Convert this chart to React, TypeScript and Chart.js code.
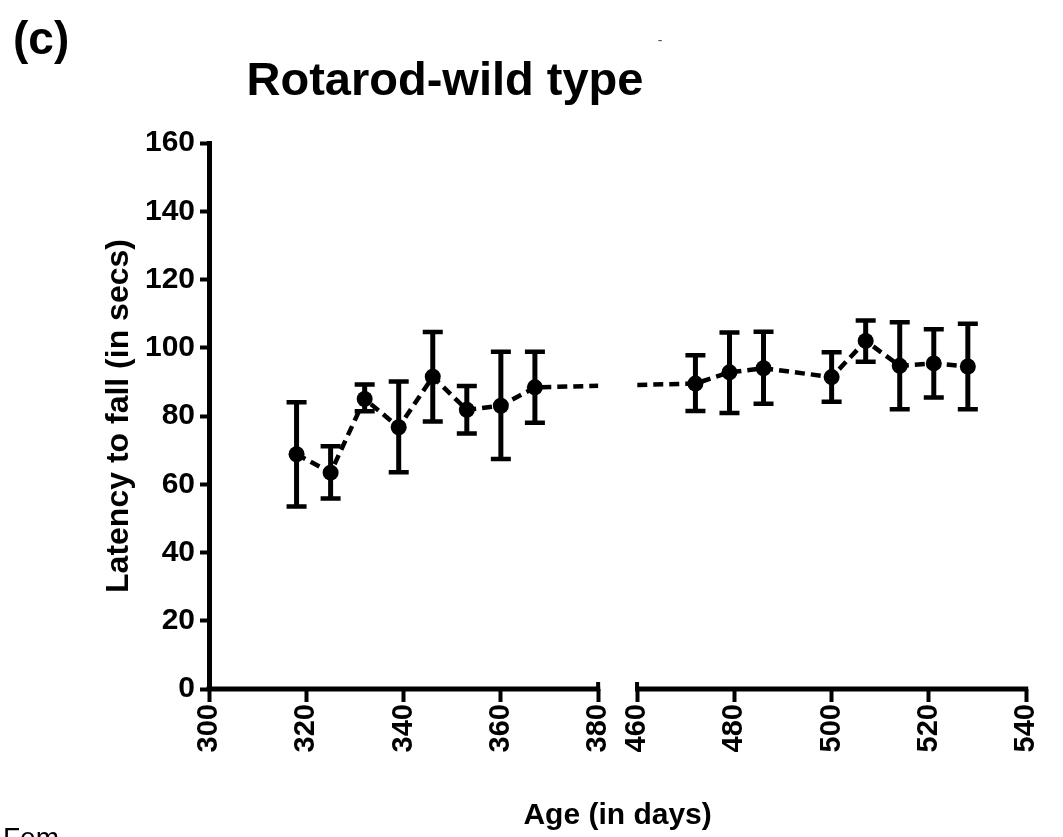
import React, { useEffect, useRef } from "react";
import { Chart, registerables } from "chart.js";

Chart.register(...registerables);

// ---- data ----
const ageDays = [318, 325, 332, 339, 346, 353, 360, 367, 472, 479, 486, 500, 507, 514, 521, 528];
const latencyMean = [68.8, 63.4, 85.0, 76.7, 91.5, 81.8, 83.0, 88.4, 89.5, 92.8, 94.0, 91.4, 102.0, 94.7, 95.4, 94.5];
const latencyUpper = [84.0, 71.1, 89.2, 90.1, 104.6, 88.8, 98.8, 98.8, 97.8, 104.5, 104.7, 98.7, 108.0, 107.5, 105.4, 107.0];
const latencyLower = [53.5, 55.8, 81.4, 63.5, 78.4, 74.9, 67.4, 78.0, 81.5, 80.9, 83.6, 84.2, 95.9, 82.0, 85.4, 82.0];
const xTickDays = [300, 320, 340, 360, 380, 460, 480, 500, 520, 540];
const yTickValues = [0, 20, 40, 60, 80, 100, 120, 140, 160];

const panelLabel = "(c)";
const chartTitle = "Rotarod-wild type";
const yAxisTitle = "Latency to fall (in secs)";
const xAxisTitle = "Age (in days)";
const strayMark = "-";
const footerText = "Fem";

// broken x axis: 380 -> 460 collapsed into a small gap
const breakStart = 380;
const breakEnd = 460;
const breakGap = 8;
const toAxis = (d: number) => (d <= breakStart ? d : d - breakEnd + breakStart + breakGap);

const FONT = "'Liberation Sans', Arial, Helvetica, sans-serif";

export default function App() {
  const canvasRef = useRef<HTMLCanvasElement | null>(null);

  useEffect(() => {
    const canvas = canvasRef.current;
    if (!canvas) return;

    const gapClip = {
      id: "gapClip",
      beforeDatasetDraw(chart: any) {
        const { ctx } = chart;
        const xs = chart.scales.x;
        const a = xs.getPixelForValue(breakStart);
        const b = xs.getPixelForValue(toAxis(breakEnd));
        ctx.save();
        ctx.beginPath();
        ctx.rect(0, 0, a, chart.height);
        ctx.rect(b, 0, chart.width - b, chart.height);
        ctx.clip();
      },
      afterDatasetDraw(chart: any) {
        chart.ctx.restore();
      },
    };

    const errorBars = {
      id: "errorBars",
      beforeDatasetsDraw(chart: any) {
        const { ctx } = chart;
        const xs = chart.scales.x;
        const ys = chart.scales.y;
        ctx.save();
        ctx.strokeStyle = "#000";
        ctx.lineCap = "butt";
        ageDays.forEach((d, i) => {
          const x = xs.getPixelForValue(toAxis(d));
          const yt = ys.getPixelForValue(latencyUpper[i]);
          const yb = ys.getPixelForValue(latencyLower[i]);
          ctx.lineWidth = 5;
          ctx.beginPath();
          ctx.moveTo(x, yt);
          ctx.lineTo(x, yb);
          ctx.stroke();
          ctx.lineWidth = 4.5;
          ctx.beginPath();
          ctx.moveTo(x - 10, yt);
          ctx.lineTo(x + 10, yt);
          ctx.moveTo(x - 10, yb);
          ctx.lineTo(x + 10, yb);
          ctx.stroke();
        });
        ctx.restore();
      },
    };

    const brokenAxis = {
      id: "brokenAxis",
      afterDraw(chart: any) {
        const { ctx } = chart;
        const xs = chart.scales.x;
        const y0 = chart.scales.y.getPixelForValue(0);
        const p300 = xs.getPixelForValue(toAxis(xTickDays[0]));
        const p380 = xs.getPixelForValue(breakStart);
        const p460 = xs.getPixelForValue(toAxis(breakEnd));
        const p540 = xs.getPixelForValue(toAxis(xTickDays[xTickDays.length - 1]));
        ctx.save();
        ctx.strokeStyle = "#000";
        ctx.lineWidth = 5;
        ctx.beginPath();
        ctx.moveTo(p300 - 2.5, y0);
        ctx.lineTo(p380 + 2, y0);
        ctx.moveTo(p460 - 2, y0);
        ctx.lineTo(p540 + 2, y0);
        ctx.stroke();
        ctx.lineWidth = 4;
        ctx.beginPath();
        ctx.moveTo(p380, y0 - 7);
        ctx.lineTo(p380, y0 + 2);
        ctx.moveTo(p460, y0 - 7);
        ctx.lineTo(p460, y0 + 2);
        ctx.stroke();

        // texts
        ctx.fillStyle = "#000";
        ctx.textBaseline = "middle";
        ctx.textAlign = "left";
        ctx.font = `bold 46px ${FONT}`;
        ctx.fillText(panelLabel, 13, 41);
        ctx.textAlign = "center";
        ctx.font = `bold 47px ${FONT}`;
        ctx.fillText(chartTitle, 445, 82);
        ctx.fillStyle = "#555";
        ctx.font = `14px ${FONT}`;
        ctx.fillText(strayMark, 660, 41);
        ctx.fillStyle = "#000";
        ctx.textAlign = "left";
        ctx.textBaseline = "alphabetic";
        ctx.font = `28px ${FONT}`;
        ctx.fillText(footerText, 3, 847);
        ctx.restore();
      },
    };

    const chart = new Chart(canvas, {
      type: "line",
      data: {
        datasets: [
          {
            data: ageDays.map((d, i) => ({ x: toAxis(d), y: latencyMean[i] })),
            borderColor: "#000",
            backgroundColor: "#000",
            borderWidth: 4.5,
            borderDash: [10, 6],
            pointRadius: 8,
            pointBorderWidth: 0,
            pointBackgroundColor: "#000",
            tension: 0,
            fill: false,
          },
        ],
      },
      options: {
        responsive: false,
        devicePixelRatio: 1,
        animation: false,
        layout: { padding: { left: 0, top: 143, right: 33, bottom: 0 } },
        plugins: {
          legend: { display: false },
          tooltip: { enabled: false },
          title: { display: false },
        },
        scales: {
          x: {
            type: "linear",
            min: toAxis(xTickDays[0]),
            max: toAxis(xTickDays[xTickDays.length - 1]),
            afterBuildTicks: (s: any) => {
              s.ticks = xTickDays.map((d) => ({ value: toAxis(d) }));
            },
            afterFit: (s: any) => {
              s.height = 148;
            },
            border: { display: false },
            grid: {
              display: true,
              drawOnChartArea: false,
              drawTicks: true,
              tickLength: 13,
              tickWidth: 4,
              tickColor: "#000",
            },
            ticks: {
              autoSkip: false,
              maxRotation: 90,
              minRotation: 90,
              padding: 2,
              color: "#000",
              font: { family: FONT, size: 29, weight: "bold" },
              callback: (_v: any, i: number) => String(xTickDays[i]),
            },
            title: {
              display: true,
              text: xAxisTitle,
              color: "#000",
              font: { family: FONT, size: 30, weight: "bold" },
              padding: { top: 0, bottom: 3 },
            },
          },
          y: {
            type: "linear",
            min: yTickValues[0],
            max: yTickValues[yTickValues.length - 1],
            afterBuildTicks: (s: any) => {
              s.ticks = yTickValues.map((v) => ({ value: v }));
            },
            afterFit: (s: any) => {
              s.width = 209;
            },
            border: { display: true, width: 5, color: "#000" },
            grid: {
              display: true,
              drawOnChartArea: false,
              drawTicks: true,
              tickLength: 9,
              tickWidth: 4,
              tickColor: "#000",
            },
            ticks: {
              padding: 5,
              color: "#000",
              font: { family: FONT, size: 30, weight: "bold" },
              callback: (v: any) => String(v),
            },
            title: {
              display: true,
              text: yAxisTitle,
              color: "#000",
              font: { family: FONT, size: 32, weight: "bold" },
              padding: { top: 100, bottom: 0 },
            },
          },
        },
      },
      plugins: [gapClip, errorBars, brokenAxis],
    } as any);

    return () => chart.destroy();
  }, []);

  return (
    <div style={{ position: "absolute", left: 0, top: 0, width: 1063, height: 837, background: "#fff" }}>
      <canvas ref={canvasRef} width={1063} height={837} style={{ display: "block" }} />
    </div>
  );
}
